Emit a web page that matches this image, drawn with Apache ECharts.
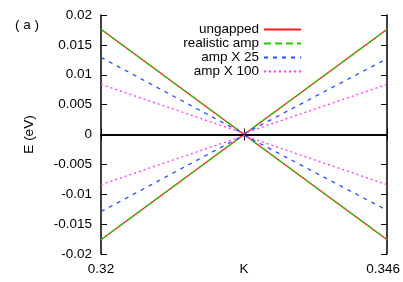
<!DOCTYPE html>
<html><head><meta charset="utf-8">
<script src="https://cdn.jsdelivr.net/npm/echarts@6/dist/echarts.min.js"></script>
<style>html,body{margin:0;padding:0;background:#fff}#c{width:403px;height:282px}</style>
</head><body><div id="c"></div>
<script>
var kPoints = [0.32, 0.333, 0.346];
var xTickValues = [0.32, 0.333, 0.346];
var xTickLabels = ['0.32', 'K', '0.346'];
var seriesNames = ['ungapped', 'realistic amp', 'amp X 25', 'amp X 100'];
var ungappedE = [0.0176, 0, 0.0176];
var realisticE = [0.0176, 0.00002, 0.0176];
var amp25E = [0.0129, 0.0001, 0.0127];
var amp100E = [0.0084, 0.0002, 0.0084];

var colors = ['#ff1a1a', '#22cc00', '#2a4ff0', '#ff33ff'];
var dashes = ['solid', [7, 4], [4, 5], [2, 3]];
var values = [ungappedE, realisticE, amp25E, amp100E];

function band(vals, sign) {
  return kPoints.map(function (k, i) { return [k, sign * vals[i]]; });
}
var series = [];
seriesNames.forEach(function (name, i) {
  [1, -1].forEach(function (s) {
    series.push({
      name: name, type: 'line', data: band(values[i], s), symbol: 'none',
      xAxisIndex: 0, yAxisIndex: 0, z: 2 + i,
      lineStyle: { color: colors[i], width: 1.3, type: dashes[i] },
      itemStyle: { color: colors[i] }, silent: true, animation: false
    });
  });
});
series.push({
  type: 'line', data: [], silent: true, animation: false,
  markLine: { symbol: 'none', silent: true, label: { show: false },
    lineStyle: { color: '#000', width: 1.5, type: 'solid' },
    data: [{ yAxis: 0 }] }
});

var font = 'Liberation Sans';
var fs = 13.5;
var chart = echarts.init(document.getElementById('c'));
chart.setOption({
  animation: false,
  grid: { left: 101, right: 15, top: 15, bottom: 28 },
  legend: {
    data: seriesNames, orient: 'vertical', align: 'right', right: 101, top: 22.5,
    padding: 0, itemWidth: 37, itemHeight: 13, itemGap: 0,
    itemStyle: { opacity: 0 },
    textStyle: { fontFamily: font, fontSize: fs, color: '#000', lineHeight: 13 },
    selectedMode: false
  },
  xAxis: [{
    type: 'value', min: 0.32, max: 0.346, position: 'bottom',
    axisLine: { lineStyle: { color: '#000', width: 1.5 } },
    axisTick: { inside: true, length: 6, customValues: xTickValues, lineStyle: { color: '#000' } },
    axisLabel: { customValues: xTickValues, margin: 8, fontFamily: font, fontSize: fs, color: '#000',
      rich: { r: { fontFamily: font, fontSize: fs, color: '#000', padding: [0, 8, 0, 0] } },
      formatter: function (v) {
        var i = xTickValues.findIndex(function (t) { return Math.abs(t - v) < 1e-9; });
        if (i < 0) return '';
        return i === xTickValues.length - 1 ? '{r|' + xTickLabels[i] + '}' : xTickLabels[i];
      } },
    splitLine: { show: false }
  }, {
    type: 'value', min: 0.32, max: 0.346, position: 'top',
    axisLine: { lineStyle: { color: '#000', width: 1.5 } },
    axisTick: { inside: true, length: 6, customValues: xTickValues, lineStyle: { color: '#000' } },
    axisLabel: { show: false }, splitLine: { show: false }
  }],
  yAxis: [{
    type: 'value', min: -0.02, max: 0.02, interval: 0.005, position: 'left',
    axisLine: { show: true, lineStyle: { color: '#000', width: 1.5 } },
    axisTick: { show: true, inside: true, length: 6, lineStyle: { color: '#000' } },
    axisLabel: { margin: 9, fontFamily: font, fontSize: fs, color: '#000',
      formatter: function (v) { return String(Math.round(v * 1000) / 1000); } },
    splitLine: { show: false },
    name: 'E (eV)', nameLocation: 'middle', nameGap: 65, nameRotate: 90,
    nameTextStyle: { fontFamily: font, fontSize: fs, color: '#000' }
  }, {
    type: 'value', min: -0.02, max: 0.02, interval: 0.005, position: 'right',
    axisLine: { show: true, lineStyle: { color: '#000', width: 1.5 } },
    axisTick: { show: true, inside: true, length: 6, lineStyle: { color: '#000' } },
    axisLabel: { show: false }, splitLine: { show: false }
  }],
  graphic: [{ type: 'text', left: 15, top: 18,
    style: { text: '( a )', font: '13.5px "Liberation Sans"', fill: '#000' } }],
  series: series
});
</script></body></html>
